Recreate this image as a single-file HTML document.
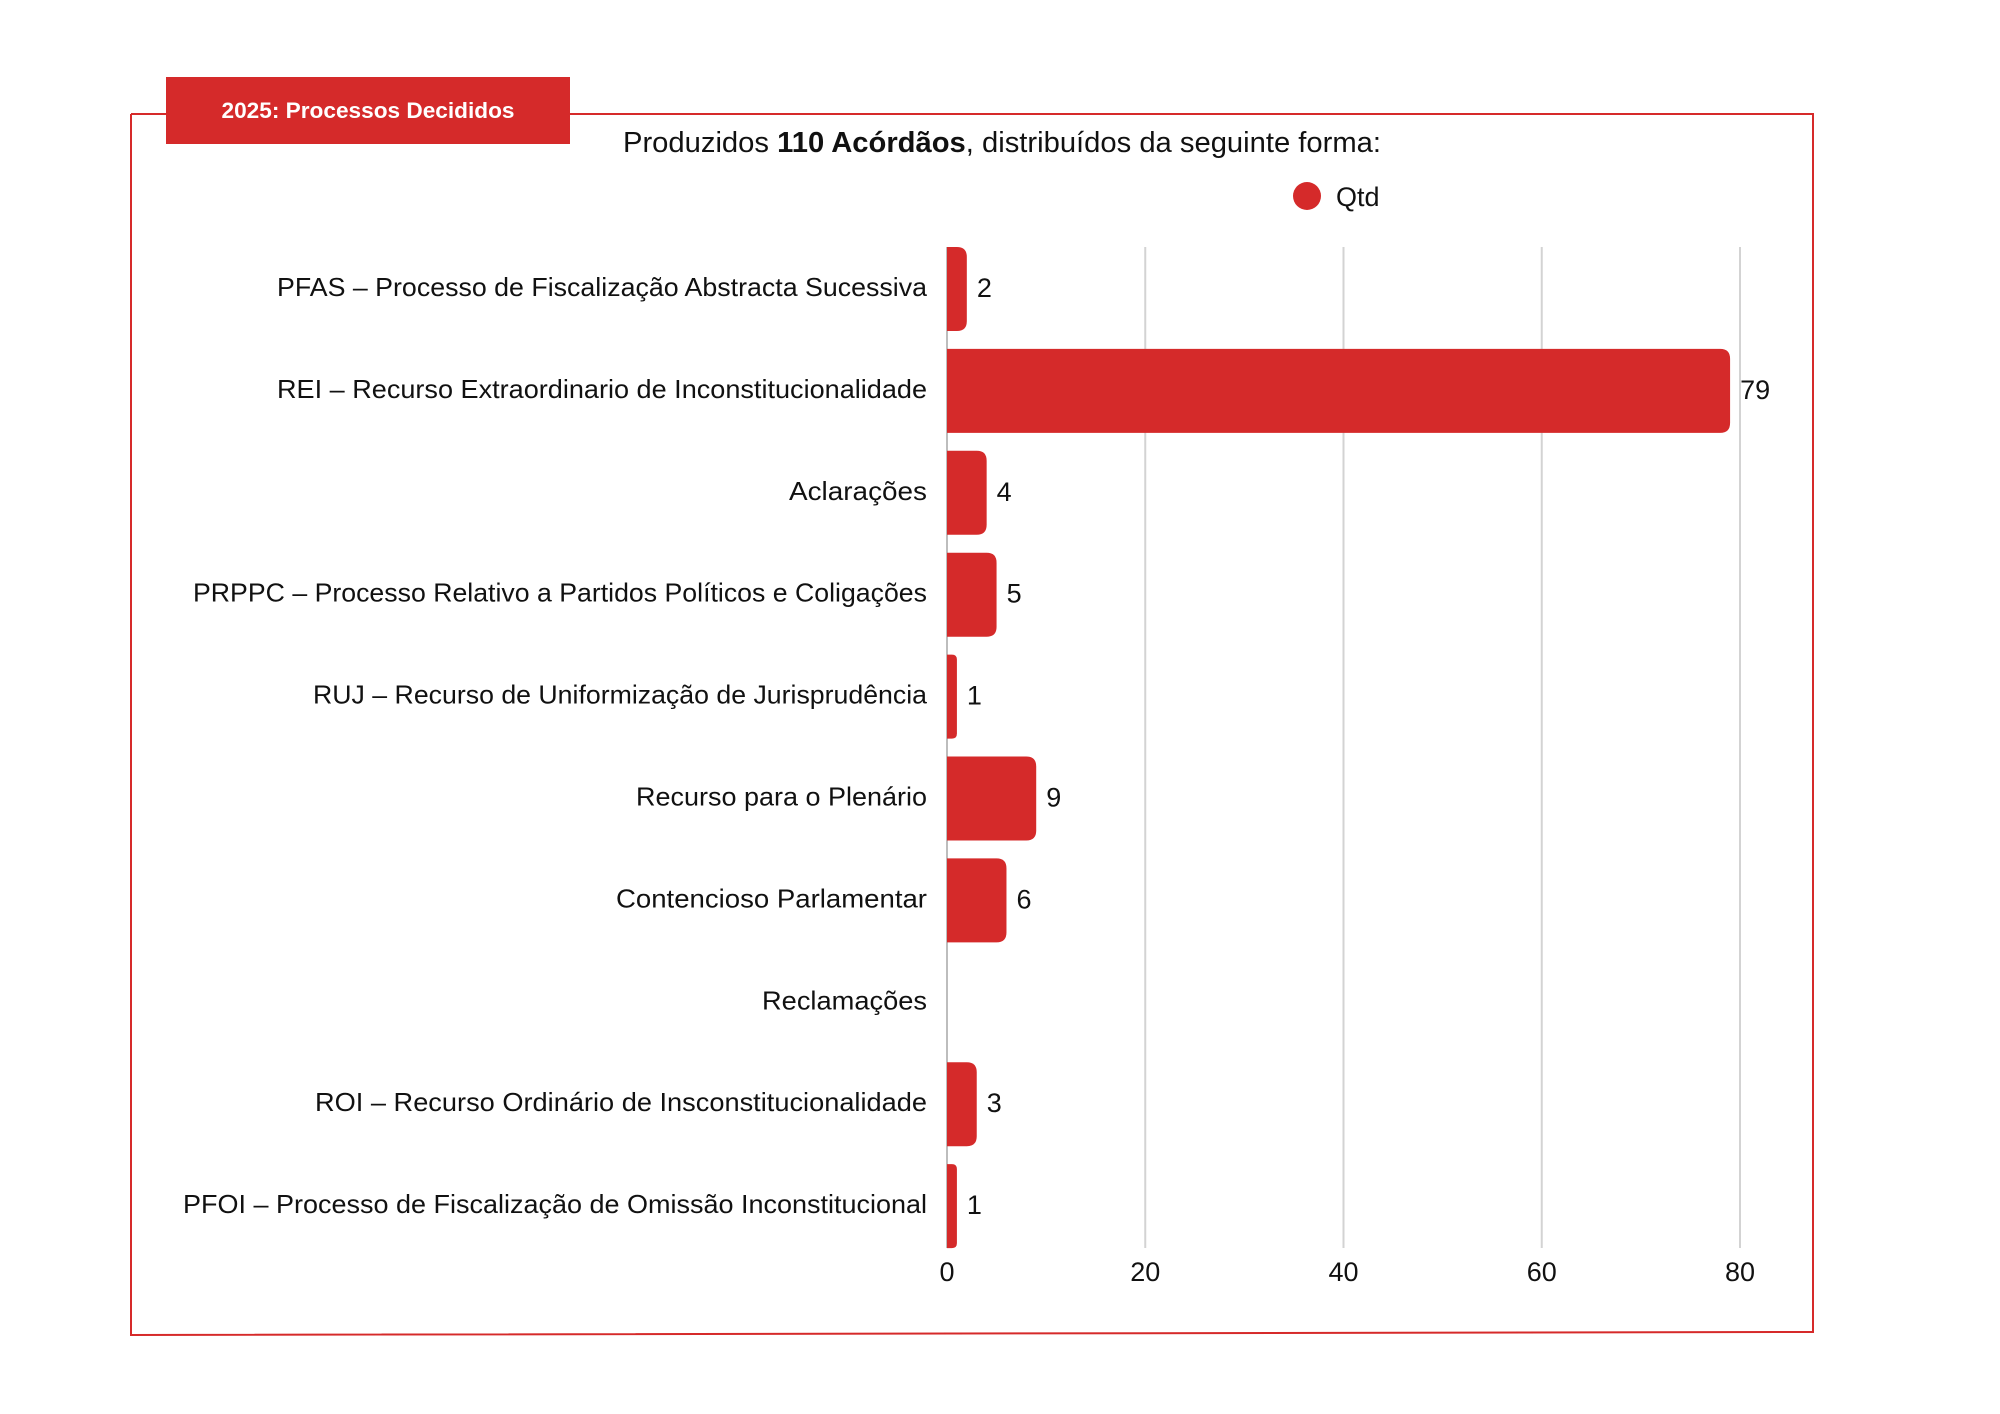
<!DOCTYPE html>
<html><head><meta charset="utf-8"><style>
html,body{margin:0;padding:0;background:#fff;}
svg{display:block;}
text{font-family:"Liberation Sans",sans-serif;}
</style></head><body>
<svg id="chart" width="2000" height="1414" viewBox="0 0 2000 1414" xmlns="http://www.w3.org/2000/svg">
  <polyline points="131,114 131,1335 1813,1332 1813,114 131,114" fill="none" stroke="#d62a2a" stroke-width="2"/>
  <rect x="166" y="77" width="404" height="67" fill="#d52a2a"/>
  <text x="368" y="118" text-anchor="middle" font-size="22" font-weight="bold" fill="#fff" textLength="293" lengthAdjust="spacingAndGlyphs">2025: Processos Decididos</text>
  <text x="623" y="152" font-size="29" fill="#111" textLength="758" lengthAdjust="spacingAndGlyphs">Produzidos <tspan font-weight="bold">110 Acórdãos</tspan>, distribuídos da seguinte forma:</text>
  <circle cx="1307" cy="196" r="14" fill="#d52a2a"/>
  <text x="1336" y="206" font-size="27" fill="#111">Qtd</text>
  <g id="grid"></g>
  <g id="bars"></g>
  <g id="labels"></g>
</svg>
<script>
const categories = [
  "PFAS – Processo de Fiscalização Abstracta Sucessiva",
  "REI – Recurso Extraordinario de Inconstitucionalidade",
  "Aclarações",
  "PRPPC – Processo Relativo a Partidos Políticos e Coligações",
  "RUJ – Recurso de Uniformização de Jurisprudência",
  "Recurso para o Plenário",
  "Contencioso Parlamentar",
  "Reclamações",
  "ROI – Recurso Ordinário de Insconstitucionalidade",
  "PFOI – Processo de Fiscalização de Omissão Inconstitucional"
];
const values = [2, 79, 4, 5, 1, 9, 6, 0, 3, 1];
const tickValues = [0, 20, 40, 60, 80];
const tickLabels = ["0", "20", "40", "60", "80"];
const labelLeft = [277, 277, 789, 193, 313, 636, 616, 762, 315, 183];

const NS = "http://www.w3.org/2000/svg";
const X0 = 947, UNIT = (1740 - 947) / 80;
const TOP = 247, STEP = 101.9, BH = 84, GBOT = 1248;
const xs = v => X0 + v * UNIT;
const ys = i => TOP + i * STEP;
function mk(tag, attrs, parent) {
  const e = document.createElementNS(NS, tag);
  for (const k in attrs) e.setAttribute(k, attrs[k]);
  parent.appendChild(e);
  return e;
}
const grid = document.getElementById('grid');
const bars = document.getElementById('bars');
const labels = document.getElementById('labels');

tickValues.forEach((t, i) => {
  const l = mk('line', {x1: xs(t), x2: xs(t), y1: TOP, y2: GBOT, stroke: i === 0 ? '#bdbdbd' : '#d3d3d3', 'stroke-width': 2}, grid);
  
  
  const tx = mk('text', {x: xs(t), y: 1281, 'text-anchor': 'middle', 'font-size': 27, fill: '#111'}, labels);
  tx.textContent = tickLabels[i];
  
  
});

categories.forEach((c, i) => {
  const y = ys(i), cy = y + BH / 2, v = values[i];
  const right = 927;
  const lab = mk('text', {x: labelLeft[i], y: cy + 7, 'font-size': 26, fill: '#111', textLength: right - labelLeft[i], lengthAdjust: 'spacingAndGlyphs'}, labels);
  lab.textContent = c;
  
  
  if (v > 0) {
    const w = xs(v) - X0;
    const r = Math.min(10, w / 2);
    const d = `M${X0},${y} H${X0 + w - r} Q${X0 + w},${y} ${X0 + w},${y + r} V${y + BH - r} Q${X0 + w},${y + BH} ${X0 + w - r},${y + BH} H${X0} Z`;
    const b = mk('path', {d: d, fill: '#d52a2a'}, bars);
    
    
    const vt = mk('text', {x: xs(v) + 10, y: cy + 8, 'font-size': 27, fill: '#111'}, labels);
    vt.textContent = String(v);
    
    
  }
});
</script>
</body></html>
